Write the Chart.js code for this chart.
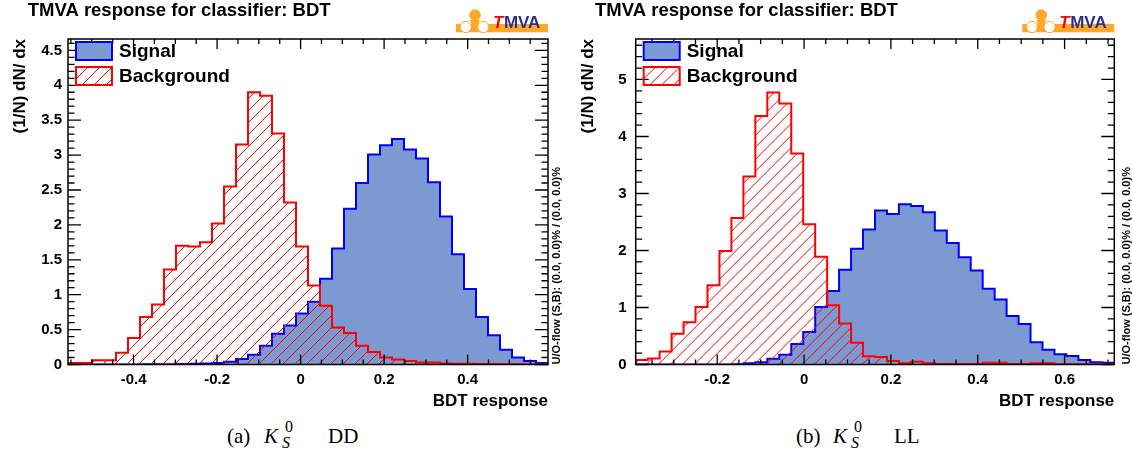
<!DOCTYPE html>
<html><head><meta charset="utf-8">
<script src="https://cdn.jsdelivr.net/npm/chart.js@4.4.0/dist/chart.umd.min.js"></script>
<style>
html,body{margin:0;padding:0;background:#fff;width:1132px;height:462px;overflow:hidden;position:relative;}
canvas{position:absolute;top:0;}
#c1{left:0;} #c2{left:566px;}
.cp{position:absolute;font-family:"Liberation Serif","Times New Roman",serif;color:#000;white-space:nowrap;line-height:1;}
.big{font-size:21px;top:426px;}
.it{font-style:italic;}
.sup{font-size:16px;top:418.5px;}
.sub{font-size:16px;top:435px;font-style:italic;}
</style></head>
<body>
<canvas id="c1" width="566" height="415"></canvas>
<canvas id="c2" width="566" height="415"></canvas>
<div class="cp big" style="left:227px">(a)</div>
<div class="cp big it" style="left:264px">K</div>
<div class="cp sup" style="left:285px">0</div>
<div class="cp sub" style="left:282px">S</div>
<div class="cp big" style="left:328px">DD</div>
<div class="cp big" style="left:796px">(b)</div>
<div class="cp big it" style="left:833px">K</div>
<div class="cp sup" style="left:854px">0</div>
<div class="cp sub" style="left:851px">S</div>
<div class="cp big" style="left:894px">LL</div>
<script>
// ---------------- data ----------------
const seriesNames = ['Signal', 'Background'];
const titleText = 'TMVA response for classifier: BDT';
const xTitle = 'BDT response';
const yTitle = '(1/N) dN/ dx';
const uoText = 'U/O-flow (S,B): (0.0, 0.0)% / (0.0, 0.0)%';

// K0S DD : 40 bins
const rangeDD = [-0.557, 0.5925];
const signalDD = [0,0,0,0,0,0,0.002,0.003,0.005,0.007,0.01,0.015,0.02,0.04,0.08,0.14,0.27,0.44,0.56,0.73,
                  0.90,1.23,1.66,2.23,2.60,3.01,3.14,3.23,3.08,2.95,2.61,2.12,1.58,1.08,0.68,0.42,0.21,0.10,0.05,0.02];
const backgroundDD = [0.02,0.02,0.06,0.06,0.17,0.38,0.68,0.86,1.36,1.70,1.69,1.75,2.02,2.55,3.15,3.90,3.85,3.31,2.32,1.69,
                      1.13,0.84,0.53,0.45,0.27,0.18,0.10,0.07,0.05,0.03,0.03,0.015,0.012,0.01,0.008,0.006,0.005,0.004,0.003,0.002];
const xTicksDD = [-0.4, -0.2, 0, 0.2, 0.4];
const xTickLabelsDD = ['-0.4', '-0.2', '0', '0.2', '0.4'];
const yTicksDD = [0, 0.5, 1, 1.5, 2, 2.5, 3, 3.5, 4, 4.5];
const yTickLabelsDD = ['0', '0.5', '1', '1.5', '2', '2.5', '3', '3.5', '4', '4.5'];

// K0S LL : 40 bins
const rangeLL = [-0.3877, 0.7145];
const signalLL = [0,0,0,0,0,0,0,0.002,0.005,0.02,0.04,0.10,0.17,0.36,0.57,1.01,1.29,1.66,2.03,2.37,
                  2.70,2.64,2.81,2.78,2.67,2.35,2.13,1.88,1.65,1.33,1.14,0.85,0.71,0.39,0.26,0.18,0.15,0.08,0.04,0.03];
const backgroundLL = [0.08,0.105,0.23,0.54,0.74,1.01,1.39,1.99,2.57,3.30,4.36,4.77,4.58,3.70,2.46,1.89,1.04,0.72,0.38,0.146,
                      0.13,0.06,0.02,0.05,0.02,0.01,0.01,0.01,0.01,0.03,0.03,0.01,0.01,0.02,0.02,0.005,0.005,0.005,0.005,0.005];
const xTicksLL = [-0.2, 0, 0.2, 0.4, 0.6];
const xTickLabelsLL = ['-0.2', '0', '0.2', '0.4', '0.6'];
const yTicksLL = [0, 1, 2, 3, 4, 5];
const yTickLabelsLL = ['0', '1', '2', '3', '4', '5'];

// ---------------- styles ----------------
const FONT = '"Liberation Sans", Arial, Helvetica, sans-serif';
const SIG_FILL = '#7D99D1', SIG_LINE = '#0000FF', BKG_LINE = '#FF0000';
const ORANGE = '#FFA726', NAVY = '#2B2F8F';
const HATCH_STEP = 12;

function histPoints(range, vals) {
  const w = (range[1] - range[0]) / vals.length;
  const pts = [{x: range[0], y: 0}];
  vals.forEach((v, i) => pts.push({x: range[0] + i * w, y: v}));
  pts.push({x: range[1], y: vals[vals.length - 1]});
  pts.push({x: range[1], y: 0});
  return pts;
}

// draw "/" hatch lines inside current clip over rectangle
function hatchRect(ctx, l, t, r, b) {
  const h = b - t;
  ctx.strokeStyle = BKG_LINE; ctx.lineWidth = 1;
  ctx.beginPath();
  for (let c = -h; c < (r - l) + h; c += HATCH_STEP) {
    ctx.moveTo(l + c, b); ctx.lineTo(l + c + h, t);
  }
  ctx.stroke();
}

const framePlugin = {
  id: 'rootFrame',
  afterDatasetDraw(chart, args) {
    const ds = chart.data.datasets[args.index];
    if (!ds.hatched) return;
    const {ctx, chartArea: ca} = chart;
    const pts = args.meta.data;
    ctx.save();
    ctx.beginPath();
    ctx.rect(ca.left, ca.top, ca.right - ca.left, ca.bottom - ca.top);
    ctx.clip();
    ctx.beginPath();
    ctx.moveTo(pts[0].x, pts[0].y);
    for (let i = 1; i < pts.length; i++) {
      ctx.lineTo(pts[i].x, pts[i - 1].y);
      ctx.lineTo(pts[i].x, pts[i].y);
    }
    ctx.closePath();
    ctx.clip();
    hatchRect(ctx, ca.left, ca.top, ca.right, ca.bottom);
    ctx.restore();
  },
  afterDatasetsDraw(chart) {
    const o = chart.options.plugins.rootFrame;
    const {ctx, chartArea: ca, scales: {x, y}} = chart;
    ctx.save();
    ctx.strokeStyle = '#000'; ctx.lineWidth = 1.3;
    ctx.beginPath();
    const ln = (a, b, c, d) => { ctx.moveTo(a, b); ctx.lineTo(c, d); };
    const k0 = Math.ceil(x.min / o.xMinor - 1e-6), k1 = Math.floor(x.max / o.xMinor + 1e-6);
    const r = Math.round(o.xMajor / o.xMinor);
    for (let k = k0; k <= k1; k++) {
      const px = x.getPixelForValue(k * o.xMinor);
      const L = (k % r === 0) ? 10 : 5;
      ln(px, ca.bottom, px, ca.bottom - L); ln(px, ca.top, px, ca.top + L);
    }
    const j0 = Math.ceil(y.min / o.yMinor - 1e-6), j1 = Math.floor(y.max / o.yMinor + 1e-6);
    const ry = Math.round(o.yMajor / o.yMinor);
    for (let j = j0; j <= j1; j++) {
      const py = y.getPixelForValue(j * o.yMinor);
      const L = (j % ry === 0) ? 13 : 6.5;
      ln(ca.left, py, ca.left + L, py); ln(ca.right, py, ca.right - L, py);
    }
    ctx.stroke();
    ctx.lineWidth = 1.5;
    ctx.strokeRect(ca.left, ca.top, ca.right - ca.left, ca.bottom - ca.top);
    ctx.restore();
  },
  afterDraw(chart) {
    const o = chart.options.plugins.rootFrame;
    const {ctx, chartArea: ca} = chart;
    ctx.save();
    // title
    ctx.fillStyle = '#000';
    ctx.font = 'bold 18.5px ' + FONT;
    ctx.textBaseline = 'alphabetic'; ctx.textAlign = 'left';
    ctx.fillText(titleText, o.titleX, 16);
    // legend (Signal first, then Background)
    const ds = chart.data.datasets;
    [1, 0].forEach((di, n) => {
      const d = ds[di];
      const bx = ca.left + 8, by = ca.top + 3 + n * 25, bw = 36, bh = 18;
      if (d.hatched) {
        ctx.save();
        ctx.beginPath(); ctx.rect(bx, by, bw, bh); ctx.clip();
        hatchRect(ctx, bx, by, bx + bw, by + bh);
        ctx.restore();
      } else {
        ctx.fillStyle = d.backgroundColor;
        ctx.fillRect(bx, by, bw, bh);
      }
      ctx.strokeStyle = d.borderColor; ctx.lineWidth = 2;
      ctx.strokeRect(bx, by, bw, bh);
      ctx.fillStyle = '#000';
      ctx.font = 'bold 19px ' + FONT;
      ctx.textBaseline = 'middle'; ctx.textAlign = 'left';
      ctx.fillText(d.label, bx + bw + 7, by + bh / 2 + 1);
    });
    // U/O-flow text
    ctx.save();
    ctx.translate(ca.right + o.uoOff, ca.bottom);
    ctx.rotate(-Math.PI / 2);
    ctx.font = 'bold 11px ' + FONT;
    ctx.textAlign = 'left'; ctx.textBaseline = 'middle';
    ctx.fillStyle = '#000';
    ctx.fillText(uoText, 0, 0);
    ctx.restore();
    // TMVA logo
    const lx = ca.right - 92;
    ctx.fillStyle = ORANGE;
    ctx.fillRect(lx, 24, 92, 8.3);
    ctx.beginPath(); ctx.arc(lx + 19, 15, 5.8, 0, Math.PI * 2); ctx.fill();
    ctx.beginPath(); ctx.moveTo(lx + 14, 20); ctx.lineTo(lx + 24, 20); ctx.lineTo(lx + 22, 25); ctx.lineTo(lx + 16, 25); ctx.fill();
    [lx + 9.7, lx + 27.3].forEach(cx => {
      ctx.beginPath(); ctx.arc(cx, 27, 5.6, 0, Math.PI * 2);
      ctx.fillStyle = '#fff'; ctx.fill();
      ctx.strokeStyle = ORANGE; ctx.lineWidth = 1; ctx.stroke();
    });
    ctx.textBaseline = 'alphabetic'; ctx.textAlign = 'left';
    ctx.font = 'italic bold 17px ' + FONT;
    ctx.fillStyle = '#FF0000';
    ctx.fillText('T', lx + 37, 27.5);
    const tw = ctx.measureText('T').width;
    ctx.font = 'bold 17px ' + FONT;
    ctx.fillStyle = NAVY;
    ctx.fillText('MVA', lx + 37 + tw + 0.5, 27.5);
    ctx.restore();
  }
};

function makeChart(id, p) {
  const W = 566, H = 415, TOP = 39, BOTTOM = 364.5;
  return new Chart(document.getElementById(id), {
    type: 'line',
    data: {
      datasets: [
        { label: seriesNames[1], data: histPoints(p.range, p.bkg), stepped: true, fill: false, hatched: true,
          backgroundColor: 'rgba(0,0,0,0)', borderColor: BKG_LINE, borderWidth: 2, pointRadius: 0 },
        { label: seriesNames[0], data: histPoints(p.range, p.sig), stepped: true, fill: 'origin',
          backgroundColor: SIG_FILL, borderColor: SIG_LINE, borderWidth: 2, pointRadius: 0 }
      ]
    },
    options: {
      responsive: false, animation: false, events: [], devicePixelRatio: 1,
      layout: { padding: { left: 0, top: TOP, right: W - p.caRight, bottom: 0 } },
      scales: {
        x: {
          type: 'linear', min: p.range[0], max: p.range[1],
          afterFit: s => { s.height = H - BOTTOM; },
          afterBuildTicks: s => { s.ticks = p.xTicks.map(v => ({value: v})); },
          ticks: { autoSkip: false, maxRotation: 0, padding: 6, color: '#000',
                   font: { family: FONT, size: 15, weight: 'bold' },
                   callback: (v, i) => p.xLabels[i] },
          grid: { display: false, drawTicks: false }, border: { display: false },
          title: { display: true, text: xTitle, align: 'end', color: '#000',
                   font: { family: FONT, size: 17, weight: 'bold' }, padding: { top: 0, bottom: 3 } }
        },
        y: {
          type: 'linear', min: 0, max: p.yMax,
          afterFit: s => { s.width = p.caLeft; },
          afterBuildTicks: s => { s.ticks = p.yTicks.map(v => ({value: v})); },
          ticks: { autoSkip: false, padding: p.yPad, color: '#000',
                   font: { family: FONT, size: 15, weight: 'bold' },
                   callback: (v, i) => p.yLabels[i] },
          grid: { display: false, drawTicks: false }, border: { display: false },
          title: { display: true, text: yTitle, align: 'end', color: '#000',
                   font: { family: FONT, size: 17, weight: 'bold' }, padding: { top: p.yTitlePad, bottom: 0 } }
        }
      },
      plugins: {
        legend: { display: false }, tooltip: { enabled: false },
        rootFrame: { xMajor: 0.2, xMinor: 0.05, yMajor: p.yMajor, yMinor: p.yMinor,
                     titleX: p.titleX, uoOff: p.uoOff }
      }
    },
    plugins: [framePlugin]
  });
}

makeChart('c1', { range: rangeDD, sig: signalDD, bkg: backgroundDD, xTicks: xTicksDD, xLabels: xTickLabelsDD,
  yTicks: yTicksDD, yLabels: yTickLabelsDD, yMax: 4.663, yMajor: 0.5, yMinor: 0.1,
  caLeft: 68, caRight: 548, yPad: 6, yTitlePad: 10.6, titleX: 27.7, uoOff: 8.7 });
makeChart('c2', { range: rangeLL, sig: signalLL, bkg: backgroundLL, xTicks: xTicksLL, xLabels: xTickLabelsLL,
  yTicks: yTicksLL, yLabels: yTickLabelsLL, yMax: 5.71, yMajor: 1, yMinor: 0.2,
  caLeft: 69.7, caRight: 548.3, yPad: 9, yTitlePad: 12.1, titleX: 29, uoOff: 12.4 });
</script>
</body></html>
